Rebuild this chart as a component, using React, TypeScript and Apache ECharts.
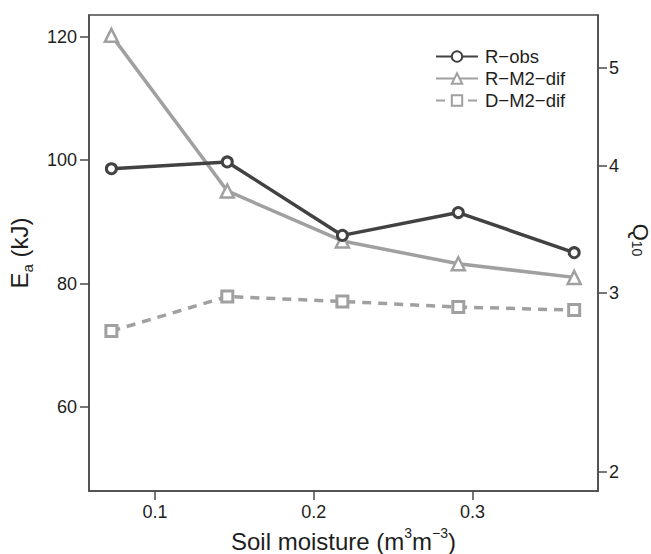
import React, { useEffect, useRef } from "react";
import * as echarts from "echarts";

const soilMoisture = [0.0725, 0.1455, 0.218, 0.291, 0.364];
const rObs = [98.6, 99.7, 87.8, 91.5, 85.0];
const rM2dif = [120.2, 95.0, 86.9, 83.2, 81.0];
const dM2dif = [72.3, 77.9, 77.1, 76.2, 75.7];
const xTicks = [0.1, 0.2, 0.3];
const eaTicks = [60, 80, 100, 120];
const q10Ticks = [2, 3, 4, 5];
// Ea (kJ) = K * ln(Q10), K = R*T^2/10 at ~20 °C
const K = 71.45;

const DARK = "#424242";
const GRAY = "#a0a0a0";
const AXIS = "#4a4a4a";
const TXT = "#1e1e1e";
const FONT = "Liberation Sans, Arial, sans-serif";

export default function App() {
  const ref = useRef<HTMLDivElement>(null);
  useEffect(() => {
    if (!ref.current) return;
    const chart = echarts.init(ref.current, null, { renderer: "svg" });
    const pts = (ys: number[]) => soilMoisture.map((x, i) => [x, ys[i]]);
    const axisCommon = {
      axisLine: { show: true, lineStyle: { color: AXIS, width: 1.5 } },
      axisTick: { show: true, inside: false, length: 9, lineStyle: { color: AXIS, width: 1.5 } },
      splitLine: { show: false },
    };
    const titleRich = {
      a: { fontSize: 24, color: TXT, fontFamily: FONT, lineHeight: 28, verticalAlign: "top" },
      b: { fontSize: 15, color: TXT, fontFamily: FONT, lineHeight: 28, verticalAlign: "bottom", padding: [9, 0, 0, 0] },
    };
    const q10Rich = {
      a: { fontSize: 22, color: TXT, fontFamily: FONT, lineHeight: 22, verticalAlign: "top" },
      b: { fontSize: 14, color: TXT, fontFamily: FONT, lineHeight: 22, verticalAlign: "bottom", padding: [7, 0, 0, 0] },
    };
    chart.setOption({
      animation: false,
      textStyle: { fontFamily: FONT },
      grid: {
        left: 89,
        right: 53,
        top: 15,
        bottom: 63,
        containLabel: false,
        outerBoundsMode: "none",
        show: true,
        borderColor: AXIS,
        borderWidth: 1.5,
        backgroundColor: "transparent",
      },
      legend: {
        orient: "vertical",
        left: 430,
        top: 42,
        itemWidth: 42,
        itemHeight: 13,
        itemGap: 3,
        textStyle: { fontSize: 18.5, color: TXT, fontFamily: FONT, padding: [0, 0, 0, 2] },
        data: ["R−obs", "R−M2−dif", "D−M2−dif"],
      },
      xAxis: {
        type: "value",
        min: 0.0584,
        max: 0.379,
        ...axisCommon,
        axisTick: { ...axisCommon.axisTick, customValues: xTicks },
        axisLabel: {
          customValues: xTicks,
          fontSize: 18,
          color: TXT,
          margin: 12,
          fontFamily: FONT,
          formatter: (v: number) => v.toFixed(1),
        },
        name: "{a|Soil moisture (m}{s|3}{a|m}{s|−3}{a|)}",
        nameLocation: "middle",
        nameGap: 29,
        nameTextStyle: {
          rich: {
            a: { fontSize: 24, color: TXT, fontFamily: FONT, lineHeight: 28, verticalAlign: "bottom" },
            s: { fontSize: 14, color: TXT, fontFamily: FONT, lineHeight: 28, verticalAlign: "top", padding: [0, 0, 13, 0] },
          },
        },
      },
      yAxis: [
        {
          type: "value",
          min: 46.4,
          max: 123.5,
          position: "left",
          ...axisCommon,
          axisTick: { ...axisCommon.axisTick, customValues: eaTicks },
          axisLabel: { customValues: eaTicks, fontSize: 18, color: TXT, margin: 12, fontFamily: FONT },
          name: "{a|E}{b|a}{a| (kJ)}",
          nameLocation: "middle",
          nameGap: 54,
          nameRotate: 90,
          nameTextStyle: { rich: titleRich },
        },
        {
          type: "value",
          min: 46.4,
          max: 123.5,
          position: "right",
          ...axisCommon,
          axisTick: { ...axisCommon.axisTick, customValues: q10Ticks.map((q) => K * Math.log(q)) },
          axisLabel: {
            customValues: q10Ticks.map((q) => K * Math.log(q)),
            fontSize: 18,
            color: TXT,
            margin: 11,
            fontFamily: FONT,
            formatter: (v: number) => String(Math.round(Math.exp(v / K))),
          },
          name: "{a|Q}{b|10}",
          nameLocation: "middle",
          nameGap: 8,
          nameRotate: -90,
          nameTextStyle: { rich: q10Rich, padding: [0, 26, 0, 0] },
        },
      ],
      series: [
        {
          name: "R−obs",
          type: "line",
          yAxisIndex: 0,
          data: pts(rObs),
          symbol: "circle",
          symbolSize: 10,
          lineStyle: { color: DARK, width: 3.5 },
          itemStyle: { color: "#fff", borderColor: DARK, borderWidth: 3 },
          z: 4,
        },
        {
          name: "R−M2−dif",
          type: "line",
          yAxisIndex: 0,
          data: pts(rM2dif),
          symbol: "triangle",
          symbolSize: 13,
          lineStyle: { color: GRAY, width: 3.5 },
          itemStyle: { color: "#fff", borderColor: GRAY, borderWidth: 2.5 },
          z: 3,
        },
        {
          name: "D−M2−dif",
          type: "line",
          yAxisIndex: 0,
          data: pts(dM2dif),
          symbol: "rect",
          symbolSize: 11,
          lineStyle: { color: GRAY, width: 3.5, type: [9, 7] },
          itemStyle: { color: "#fff", borderColor: GRAY, borderWidth: 3 },
          z: 3,
        },
      ],
    });
    return () => chart.dispose();
  }, []);
  return <div ref={ref} style={{ width: 651, height: 554, position: "absolute", left: 0, top: 0 }} />;
}
